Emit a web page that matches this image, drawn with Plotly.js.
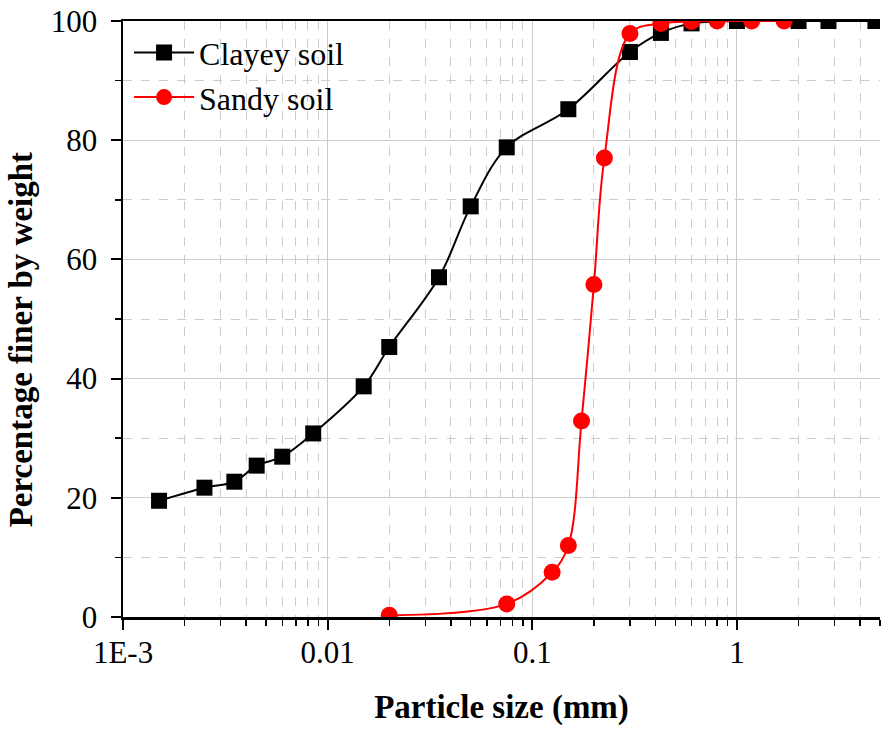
<!DOCTYPE html>
<html>
<head>
<meta charset="utf-8">
<script src="https://cdn.plot.ly/plotly-3.0.1.min.js"></script>
<style>html,body{margin:0;padding:0;background:#fff;}#chart{width:883px;height:729px;}</style>
</head>
<body>
<div id="chart"></div>
<script>
// Clayey soil (squares)
const claySize = [0.0015, 0.0025, 0.0035, 0.0045, 0.006, 0.0085, 0.015, 0.02, 0.035, 0.05, 0.075, 0.15, 0.3, 0.425, 0.6, 1, 2, 2.8, 4.75];
const clayFiner = [19.5, 21.7, 22.7, 25.4, 26.9, 30.8, 38.7, 45.3, 57.0, 68.9, 78.8, 85.2, 94.8, 98.0, 99.6, 100, 100, 100, 100];
// Sandy soil (circles)
const sandSize = [0.02, 0.075, 0.125, 0.15, 0.174, 0.2, 0.225, 0.3, 0.425, 0.6, 0.8, 1.18, 1.7];
const sandFiner = [0.3, 2.2, 7.5, 12.0, 32.9, 55.8, 77.0, 97.9, 99.6, 99.9, 100, 100, 100];
// Axis ticks
const xTickVals = [0.001, 0.01, 0.1, 1];
const xTickText = ['1E-3', '0.01', '0.1', '1'];
const yTickVals = [0, 20, 40, 60, 80, 100];

const xMinor = [];
[0.001, 0.01, 0.1, 1].forEach(d => { for (let k = 2; k <= 9; k++) { const v = d * k; if (v <= 5.0001) xMinor.push(v); } });

const font = '"Liberation Serif", "Times New Roman", serif';

const traces = [
  {
    x: claySize, y: clayFiner, name: 'Clayey soil', type: 'scatter', mode: 'lines+markers',
    line: {color: '#000000', width: 2, shape: 'spline', smoothing: 1},
    marker: {symbol: 'square', size: 16, color: '#000000'}
  },
  {
    x: sandSize, y: sandFiner, name: 'Sandy soil', type: 'scatter', mode: 'lines+markers',
    line: {color: '#ff0000', width: 2, shape: 'spline', smoothing: 1},
    marker: {symbol: 'circle', size: 17, color: '#ff0000'}
  }
];

const layout = {
  width: 883, height: 729,
  margin: {l: 123, r: 3, t: 21, b: 112},
  paper_bgcolor: '#ffffff', plot_bgcolor: '#ffffff',
  font: {family: font, size: 31, color: '#000000'},
  showlegend: true,
  legend: {x: 0.008, y: 0.993, xanchor: 'left', yanchor: 'top', bgcolor: 'rgba(0,0,0,0)', font: {family: font, size: 32}, tracegroupgap: 0, itemwidth: 60},
  xaxis: {
    type: 'log', range: [-3, Math.log10(5)],
    tickmode: 'array', tickvals: xTickVals, ticktext: xTickText,
    ticks: 'outside', ticklen: 10, tickwidth: 2, tickcolor: '#000',
    ticklabelstandoff: -4,
    showline: true, linecolor: '#000', linewidth: 2.5, mirror: true,
    showgrid: true, gridcolor: '#cccccc', gridwidth: 1,
    zeroline: false,
    tickfont: {family: font, size: 31},
    minor: {tickmode: 'array', tickvals: xMinor, ticks: 'outside', ticklen: 6, tickwidth: 1.5, tickcolor: '#000', showgrid: true, gridcolor: '#cccccc', gridwidth: 1, griddash: 'dash'},
    title: {text: '<b>Particle size (mm)</b>', font: {family: font, size: 33}, standoff: 26}
  },
  yaxis: {
    range: [0, 100],
    tickmode: 'array', tickvals: yTickVals,
    ticks: 'outside', ticklen: 10, tickwidth: 2, tickcolor: '#000',
    ticklabelstandoff: 7,
    showline: true, linecolor: '#000', linewidth: 2.5,
    showgrid: true, gridcolor: '#cccccc', gridwidth: 1,
    zeroline: false,
    tickfont: {family: font, size: 31},
    minor: {dtick: 10, tick0: 0, ticks: 'outside', ticklen: 6, tickwidth: 1.5, tickcolor: '#000', showgrid: true, gridcolor: '#cccccc', gridwidth: 1, griddash: 'dash'},
    title: {text: '<b>Percentage finer by weight</b>&nbsp;&nbsp;&nbsp;&nbsp;&nbsp;', font: {family: font, size: 33}, standoff: 8}
  }
};

Plotly.newPlot('chart', traces, layout, {displayModeBar: false, staticPlot: true});
</script>
</body>
</html>
